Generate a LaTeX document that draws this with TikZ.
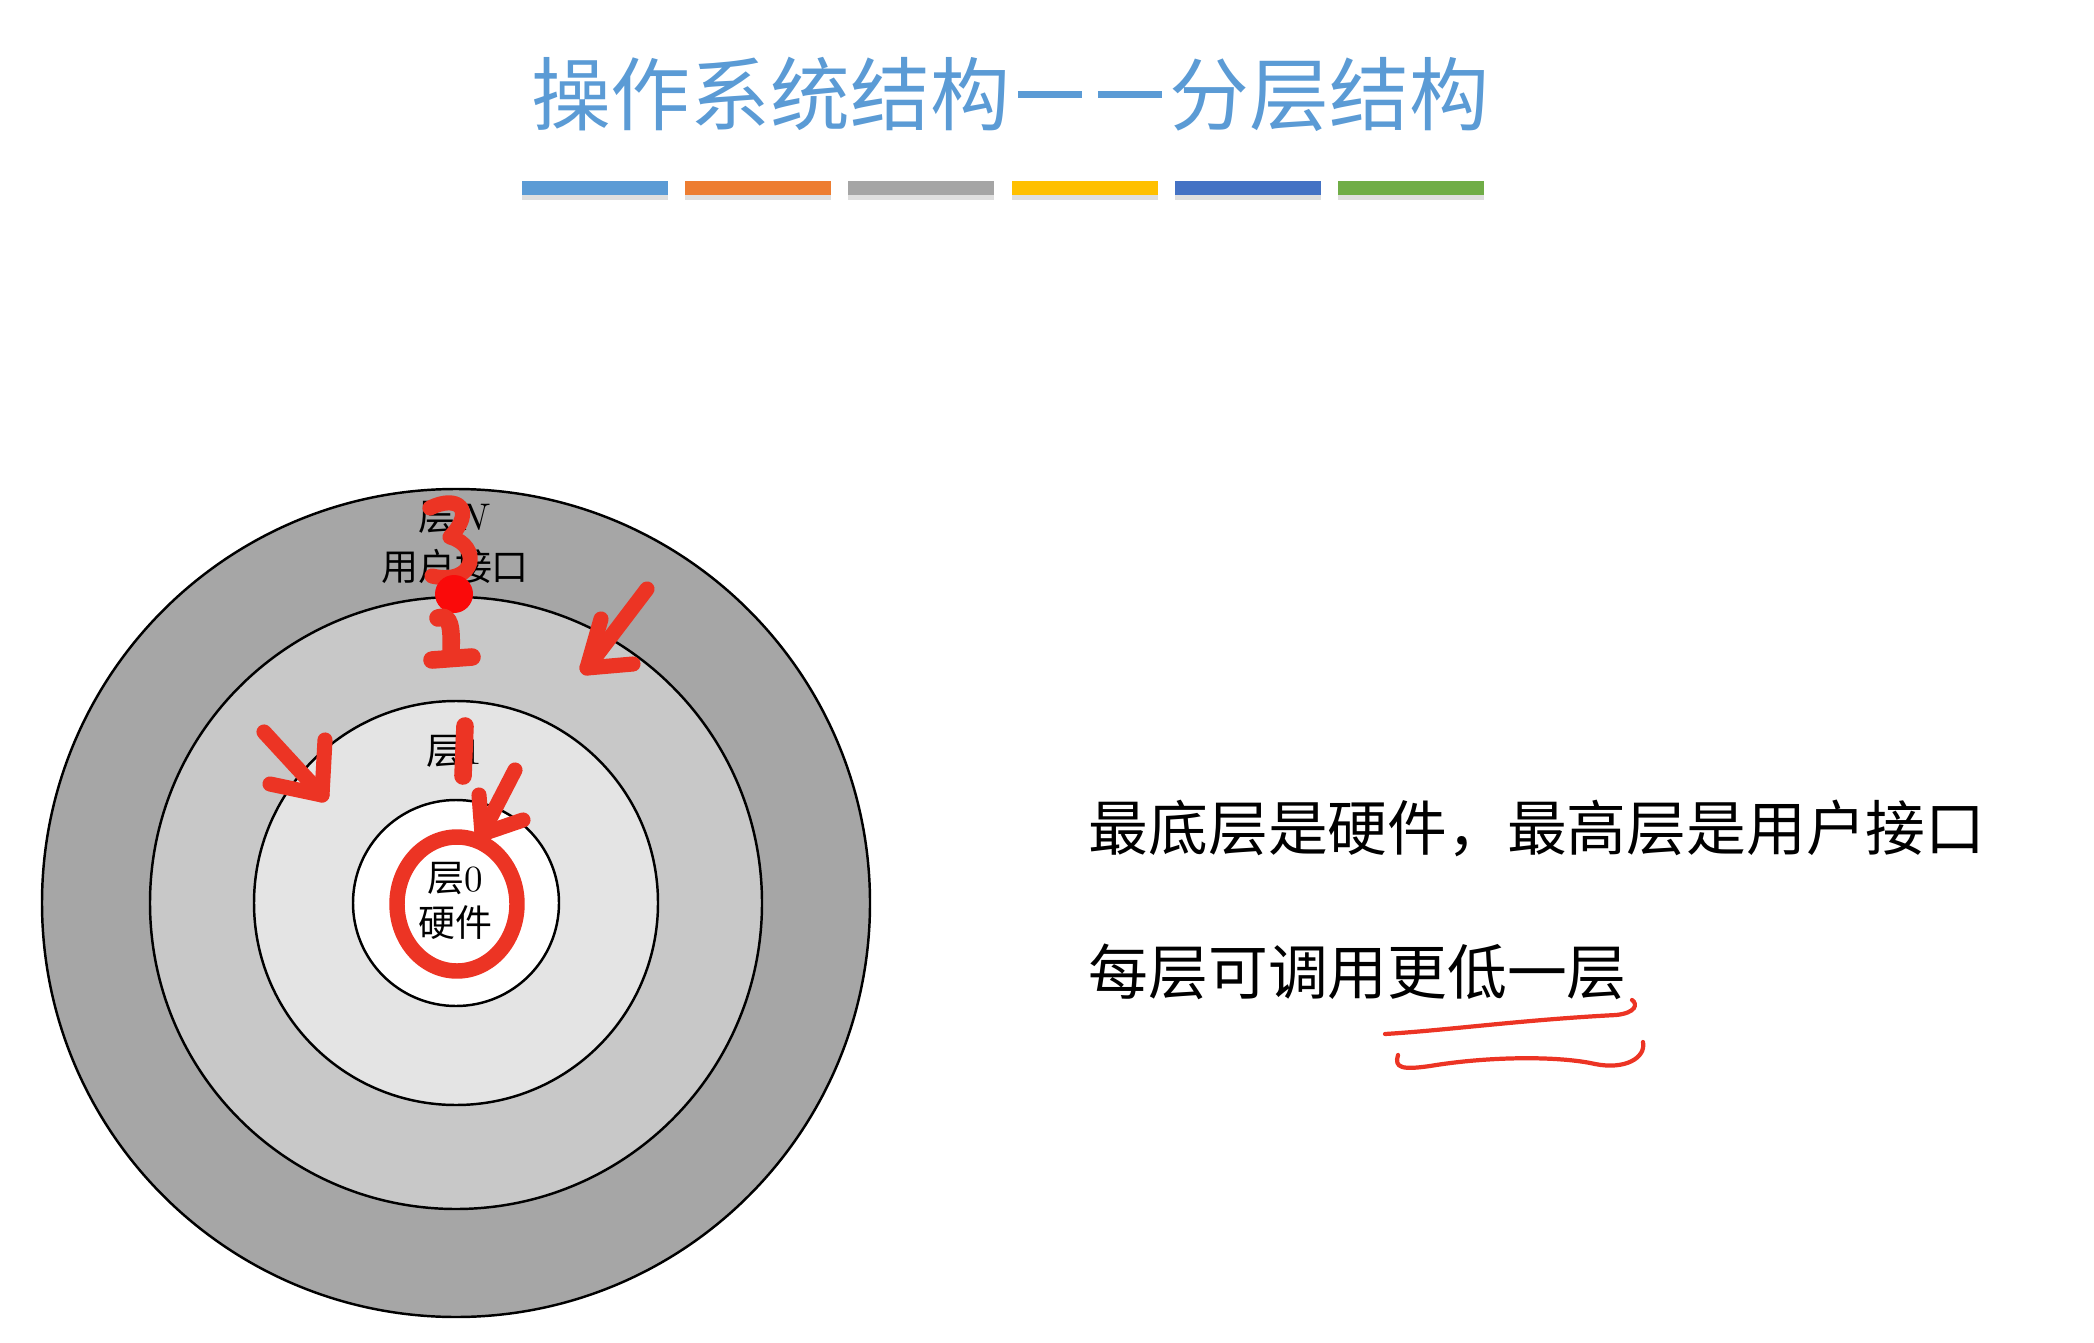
\documentclass[tikz,border=0pt]{standalone}
\usepackage{fontspec}
\usepackage{tikz}
\usepackage{xcolor}
\newfontfamily\cjk{Noto Sans CJK SC}
\usetikzlibrary{shadows}

\definecolor{titleblue}{RGB}{91,155,213}
\definecolor{barblue}{RGB}{91,155,213}
\definecolor{barorange}{RGB}{237,125,49}
\definecolor{bargray}{RGB}{165,165,165}
\definecolor{baryellow}{RGB}{255,192,0}
\definecolor{bardark}{RGB}{68,114,196}
\definecolor{bargreen}{RGB}{112,173,71}
\definecolor{ringout}{RGB}{166,166,166}
\definecolor{ringmid}{RGB}{200,200,200}
\definecolor{ringin}{RGB}{228,228,228}
\definecolor{inkred}{RGB}{236,52,36}
\definecolor{inkdot}{RGB}{250,10,10}

\newcommand{\titledash}{\hspace{0.1em}\rule[0.33em]{0.8em}{0.09em}\hspace{0.2em}\rule[0.33em]{0.8em}{0.09em}\hspace{0.1em}}

\begin{document}
\begin{tikzpicture}[x=0.01cm,y=-0.01cm,
    ring/.style={draw=black,line width=0.7pt},
    bar/.style={minimum width=1.46cm,minimum height=0.14cm,inner sep=0pt,
        drop shadow={opacity=0.25,shadow xshift=0pt,shadow yshift=-1.5pt}},
    ink/.style={draw=inkred,line width=4.3pt,line cap=round,line join=round},
    thinink/.style={draw=inkred,line width=1.2pt,line cap=round},
    label/.style={font=\cjk\fontsize{10.5}{13}\selectfont,inner sep=0pt},
    body/.style={font=\cjk\fontsize{17}{20}\selectfont,inner sep=0pt,anchor=west}]
    \useasboundingbox (0,0) rectangle (2094,1343);

    % title and coloured bars
    \node[font=\cjk\fontsize{22.7}{26}\selectfont,text=titleblue] (title) at (1010,94) {操作系统结构\titledash 分层结构};
    \foreach \c [count=\i] in {barblue,barorange,bargray,baryellow,bardark,bargreen}
        \node[bar,fill=\c] (bar\i) at ({595+163.2*(\i-1)},188) {};

    % the layers
    \coordinate (ctr) at (456,903);
    \filldraw[ring,fill=ringout] (ctr) circle[radius=414];
    \filldraw[ring,fill=ringmid] (ctr) circle[radius=306];
    \filldraw[ring,fill=ringin] (ctr) circle[radius=202];
    \filldraw[ring,fill=white] (ctr) circle[radius=103];

    \node[label] (layerN) at (455,518) {层$N$};
    \node[label] (userif) at (455,566) {用户接口};
    \node[label] (layer1) at (454,752) {层{\rmfamily 1}};
    \node[label] (layer0) at (455,879) {层{\rmfamily 0}};
    \node[label] (hw) at (455,923) {硬件};

    % text on the right
    \node[body] (line1) at (1088,828) {最底层是硬件，最高层是用户接口};
    \node[body] (line2) at (1088,972) {每层可调用更低一层};

    % red pen marks
    \draw[ink] (430,508) .. controls (458,494) and (476,510) .. (450,537)
        .. controls (482,546) and (476,586) .. (432,576);
    \fill[inkdot] (454,594) circle[radius=19];
    \draw[ink,line width=5pt] (438,618) .. controls (450,614) and (452,626) .. (451,652);
    \draw[ink,line width=5pt] (432,660) -- (472,657);
    \draw[ink] (647,589) -- (587,668);
    \draw[ink] (601,619) -- (587,668) -- (633,664);
    \draw[ink] (264,732) -- (322,795);
    \draw[ink] (270,784) -- (322,795) -- (325,740);
    \draw[ink,line width=5pt] (465,726) -- (463,776);
    \draw[ink] (515,770) -- (482,834);
    \draw[ink] (479,795) -- (482,834) -- (523,820);
    \draw[ink,line width=4.4pt] (457,904) ellipse[x radius=60,y radius=67];

    \draw[thinink] (1385,1034) .. controls (1450,1030) and (1520,1020) .. (1616,1015)
        .. controls (1636,1013) and (1638,1004) .. (1632,1000);
    \draw[thinink] (1398,1055) .. controls (1394,1068) and (1402,1070) .. (1430,1066)
        .. controls (1490,1056) and (1560,1056) .. (1595,1064)
        .. controls (1625,1070) and (1646,1058) .. (1643,1042);
\end{tikzpicture}
\end{document}
